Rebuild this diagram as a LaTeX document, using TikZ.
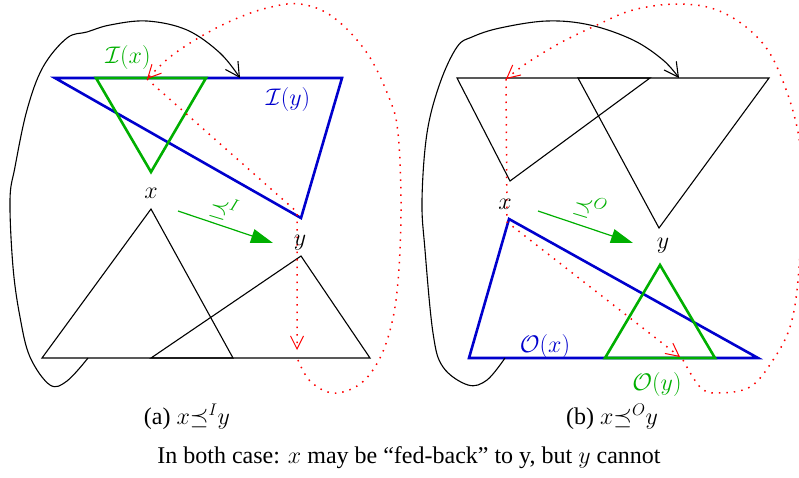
\RequirePackage{fix-cm}
\documentclass[tikz,border=0pt]{standalone}
\usepackage{fontspec}
\setmainfont{Liberation Serif}
\usetikzlibrary{arrows.meta}
\definecolor{bl}{RGB}{0,0,205}
\definecolor{gr}{RGB}{0,175,0}
\definecolor{rd}{RGB}{255,0,0}
\tikzset{
  thickb/.style={draw=bl, line width=2.6pt},
  thickg/.style={draw=gr, line width=2.6pt},
  thinb/.style={draw=black, line width=1.1pt},
  reddot/.style={draw=rd, line width=1.5pt, dash pattern=on 1.5pt off 6pt},
  redtip/.style={-{Straight Barb[length=13pt,width=13pt,line width=1pt]}},
  blacktip/.style={-{Straight Barb[length=14pt,width=15pt,line width=1.1pt]}},
  greenarrow/.style={draw=gr, line width=1.2pt, -{Triangle[length=22pt,width=14pt,fill=gr]}},
  lab/.style={inner sep=0pt},
}
\begin{document}
\begin{tikzpicture}[x=1pt,y=-1pt,font=\fontsize{24}{28}\selectfont]
\useasboundingbox (0,0) rectangle (799,477);

% ---------------- left panel ----------------
\coordinate (a1) at (151,209); \coordinate (a2) at (42,358); \coordinate (a3) at (233,358);
\coordinate (b1) at (301,256); \coordinate (b2) at (151,358); \coordinate (b3) at (370,358);
\draw[thinb] (a1) -- (a2) -- (a3) -- cycle;
\draw[thinb] (b1) -- (b2) -- (b3) -- cycle;
\coordinate (iy1) at (55,78); \coordinate (iy2) at (342,78); \coordinate (iy3) at (301,218);
\draw[thickb] (iy1) -- (iy2) -- (iy3) -- cycle;
\coordinate (ix1) at (96,78); \coordinate (ix2) at (206,78); \coordinate (ix3) at (151,172);
\draw[thickg] (ix1) -- (ix2) -- (ix3) -- cycle;
\draw[thinb, blacktip] plot[smooth, tension=0.6] coordinates {
 (88,358) (67,381) (50,385) (30,357) (20,317) (13,267) (10,200) (15,167) (27,110) (43,67) (67,38)
 (87,32) (110,25) (147,21) (187,30) (220,53) (240,78)};
\coordinate (ra1) at (147,79); \coordinate (ra2) at (297,212); \coordinate (ra3) at (297,350);
\draw[reddot, redtip] (ra1) -- (ra2) -- (ra3);
\draw[reddot, redtip] plot[smooth, tension=0.6] coordinates {
 (298,360) (310,381) (333,393) (360,384) (380,358) (393,318) (399,268) (401,200) (398,133)
 (390,100) (367,53) (333,17) (300,4) (267,8) (233,20) (200,37) (170,57) (147,79)};
\node[lab, text=gr] (lIx) at (128,57) {$\mathcal{I}(x)$};
\node[lab, text=bl] (lIy) at (288,99) {$\mathcal{I}(y)$};
\node[lab] (lxa) at (151,193) {$x$};
\node[lab] (lya) at (300,243) {$y$};
\coordinate (ga1) at (178,211); \coordinate (ga2) at (273,243);
\draw[greenarrow] (ga1) -- (ga2);
\node[lab, text=gr, rotate=-17] (pIa) at (224,208) {$\preceq^{I}$};
\node[lab] (capa) at (187,417) {(a) $x{\preceq^{I}}y$};

% ---------------- right panel ----------------
\coordinate (c1) at (457,78); \coordinate (c2) at (650,78); \coordinate (c3) at (510,181);
\coordinate (d1) at (578,78); \coordinate (d2) at (769,78); \coordinate (d3) at (659,228);
\draw[thinb] (c1) -- (c2) -- (c3) -- cycle;
\draw[thinb] (d1) -- (d2) -- (d3) -- cycle;
\coordinate (ox1) at (509,219); \coordinate (ox2) at (469,358); \coordinate (ox3) at (758,358);
\draw[thickb] (ox1) -- (ox2) -- (ox3) -- cycle;
\coordinate (oy1) at (660,265); \coordinate (oy2) at (605,358); \coordinate (oy3) at (715,358);
\draw[thickg] (oy1) -- (oy2) -- (oy3) -- cycle;
\draw[thinb, blacktip] plot[smooth, tension=0.6] coordinates {
 (505,358) (487,380) (468,385) (443,367) (433,333) (425,250) (422,200) (427,133) (440,83) (457,47) (472,37)
 (500,28) (547,21) (590,25) (633,40) (663,60) (679,78)};
\coordinate (rb1) at (506,79); \coordinate (rb2) at (507,222); \coordinate (rb3) at (680,357);
\draw[reddot, redtip] (rb1) -- (rb2) -- (rb3);
\draw[reddot, redtip] plot[smooth, tension=0.6] coordinates {
 (683,360) (700,387) (717,393) (750,387) (773,360) (790,327) (798,280) (802,200) (798,132)
 (777,67) (753,33) (717,10) (677,4) (633,10) (597,25) (560,43) (527,63) (506,79)};
\node[lab] (lxb) at (505,204) {$x$};
\node[lab] (lyb) at (663,246) {$y$};
\node[lab, text=bl] (lOx) at (545,346) {$\mathcal{O}(x)$};
\node[lab, text=gr] (lOy) at (657,384) {$\mathcal{O}(y)$};
\coordinate (gb1) at (538,211); \coordinate (gb2) at (633,243);
\draw[greenarrow] (gb1) -- (gb2);
\node[lab, text=gr, rotate=-17] (pOb) at (590,207) {$\preceq^{O}$};
\node[lab] (capb) at (612,417) {(b) $x{\preceq^{O}}y$};

\node[lab] (capm) at (409,458) {In both case: $x$ may be “fed-back” to y, but $y$ cannot};
\end{tikzpicture}
\end{document}
